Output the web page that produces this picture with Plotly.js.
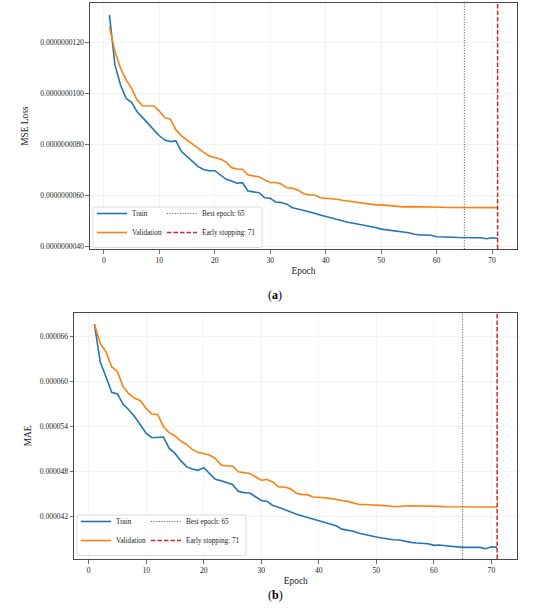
<!DOCTYPE html>
<html>
<head>
<meta charset="utf-8">
<script src="https://cdn.plot.ly/plotly-3.0.1.min.js"></script>
<style>html,body{margin:0;padding:0;background:#fff;}#chart{width:550px;height:616px;}</style>
</head>
<body>
<div id="chart"></div>
<script>
// ---- data ----
const epochs = Array.from({length: 71}, (_, i) => i + 1);

// MSE loss, units of 1e-9
const mseTrain = [13.09,11.13,10.34,9.82,9.66,9.29,9.06,8.84,8.58,8.35,
  8.18,8.12,8.15,7.73,7.53,7.33,7.14,7.03,6.98,6.98,
  6.81,6.65,6.58,6.49,6.51,6.18,6.15,6.12,5.92,5.90,
  5.75,5.73,5.67,5.53,5.48,5.43,5.37,5.31,5.24,5.18,
  5.12,5.05,5.00,4.96,4.92,4.88,4.85,4.79,4.75,4.69,
  4.66,4.63,4.59,4.58,4.55,4.49,4.46,4.46,4.45,4.39,
  4.39,4.38,4.37,4.36,4.35,4.35,4.35,4.35,4.31,4.35,4.33];
const mseVal = [12.63,11.65,11.00,10.54,10.21,9.75,9.53,9.52,9.52,9.32,
  9.06,9.00,8.58,8.35,8.18,8.01,7.86,7.70,7.56,7.51,
  7.44,7.33,7.10,7.05,7.04,6.81,6.78,6.74,6.62,6.52,
  6.52,6.46,6.31,6.29,6.22,6.09,6.03,6.03,5.92,5.90,
  5.89,5.86,5.82,5.79,5.75,5.71,5.69,5.66,5.64,5.64,
  5.62,5.60,5.56,5.56,5.57,5.57,5.56,5.56,5.55,5.55,
  5.55,5.54,5.54,5.535,5.53,5.532,5.532,5.532,5.533,5.533,5.533];

// MAE, units of 1e-6
const maeTrain = [67.69,62.67,60.67,58.58,58.36,56.98,56.22,55.33,54.22,53.11,
  52.53,52.53,52.62,51.11,50.44,49.47,48.67,48.36,48.18,48.53,
  47.78,46.98,46.80,46.53,46.31,45.40,45.21,45.16,44.71,44.17,
  44.04,43.50,43.27,42.95,42.60,42.37,42.14,41.92,41.69,41.47,
  41.24,41.02,40.79,40.34,40.21,40.07,39.80,39.60,39.48,39.30,
  39.16,39.02,38.93,38.89,38.71,38.58,38.49,38.44,38.40,38.18,
  38.22,38.13,38.04,37.96,37.91,37.91,37.91,37.91,37.73,38.00,37.91];
const maeVal = [67.69,65.11,64.00,62.00,61.33,59.33,58.36,57.78,57.47,56.44,
  55.69,55.64,54.00,53.20,52.76,52.09,51.64,50.98,50.58,50.44,
  50.22,49.78,48.89,48.76,48.76,48.00,47.91,47.77,47.32,46.87,
  46.96,46.65,45.97,45.97,45.75,45.16,44.98,44.94,44.62,44.62,
  44.53,44.44,44.35,44.17,44.04,43.86,43.63,43.63,43.59,43.55,
  43.50,43.45,43.33,43.33,43.42,43.47,43.47,43.42,43.38,43.38,
  43.38,43.33,43.33,43.30,43.29,43.29,43.29,43.29,43.29,43.29,43.29];

const bestEpoch = 65;
const stopEpoch = 71;
const seriesNames = ['Train', 'Validation'];
const markerNames = ['Best epoch: ' + bestEpoch, 'Early stopping: ' + stopEpoch];
const panelLabels = ['(<b>a</b>)', '(<b>b</b>)'];
const xTitle = 'Epoch';
const yTitles = ['MSE Loss', 'MAE'];

const scaleMSE = 1e-9, scaleMAE = 1e-6;
const sc = (arr, s) => arr.map(v => v * s);

// ---- styling ----
const W = 550, H = 616;
const px = v => v / W, py = v => 1 - v / H;
const FONT = 'Liberation Serif, Times New Roman, serif';
const C_TRAIN = '#1f77b4', C_VAL = '#ff7f0e', C_BEST = '#555555', C_STOP = '#d62728';
const DOT = '1px,1.6px', DASH = '4.5px,2px';

function lineTrace(x, y, name, color, xa, ya, leg) {
  return {type: 'scatter', mode: 'lines', x: x, y: y, name: name,
    line: {color: color, width: 1.6}, xaxis: xa, yaxis: ya, legend: leg, hoverinfo: 'x+y'};
}
function legendOnly(name, color, dash, width, xa, ya, leg) {
  return {type: 'scatter', mode: 'lines', x: [null], y: [null], name: name,
    line: {color: color, dash: dash, width: width}, xaxis: xa, yaxis: ya, legend: leg};
}

const data = [
  lineTrace(epochs, sc(mseTrain, scaleMSE), seriesNames[0], C_TRAIN, 'x', 'y', 'legend'),
  lineTrace(epochs, sc(mseVal, scaleMSE), seriesNames[1], C_VAL, 'x', 'y', 'legend'),
  legendOnly(markerNames[0], C_BEST, DOT, 1, 'x', 'y', 'legend2'),
  legendOnly(markerNames[1], C_STOP, DASH, 1.5, 'x', 'y', 'legend2'),
  lineTrace(epochs, sc(maeTrain, scaleMAE), seriesNames[0], C_TRAIN, 'x2', 'y2', 'legend3'),
  lineTrace(epochs, sc(maeVal, scaleMAE), seriesNames[1], C_VAL, 'x2', 'y2', 'legend3'),
  legendOnly(markerNames[0], C_BEST, DOT, 1, 'x2', 'y2', 'legend4'),
  legendOnly(markerNames[1], C_STOP, DASH, 1.5, 'x2', 'y2', 'legend4')
];

function xAx(domain, anchor) {
  return {domain: domain, anchor: anchor, range: [-2.5, 74.5], tick0: 0, dtick: 10,
    showline: true, mirror: true, linecolor: '#4a4a4a', linewidth: 1.1,
    ticks: 'outside', ticklen: 3.5, tickwidth: 0.8, tickcolor: '#4a4a4a',
    showgrid: true, gridcolor: '#ebebeb', gridwidth: 0.6, zeroline: false,
    tickfont: {family: FONT, size: 7.6, color: '#222'},
    title: {text: xTitle, font: {family: FONT, size: 9.4, color: '#222'}, standoff: 3}};
}
function yAx(domain, anchor, range, tick0, dtick, fmt, title, standoff) {
  return {domain: domain, anchor: anchor, range: range, tick0: tick0, dtick: dtick, tickformat: fmt,
    showline: true, mirror: true, linecolor: '#4a4a4a', linewidth: 1.1,
    ticks: 'outside', ticklen: 3.5, tickwidth: 0.8, tickcolor: '#4a4a4a',
    showgrid: true, gridcolor: '#ebebeb', gridwidth: 0.6, zeroline: false,
    tickfont: {family: FONT, size: 7.6, color: '#222'},
    title: {text: title, font: {family: FONT, size: 9.4, color: '#222'}, standoff: standoff}};
}
function legendBox(x, y) {
  return {x: x, y: y, xanchor: 'left', yanchor: 'bottom', xref: 'paper', yref: 'paper',
    bgcolor: 'rgba(0,0,0,0)', borderwidth: 0, itemwidth: 30, tracegroupgap: 0,
    font: {family: FONT, size: 7.2, color: '#222'}};
}
function roundRect(x0, y0, x1, y1, r) {
  const X = v => px(v), Y = v => py(v);
  return {type: 'path', xref: 'paper', yref: 'paper', layer: 'above',
    path: `M ${X(x0 + r)} ${Y(y0)} L ${X(x1 - r)} ${Y(y0)} Q ${X(x1)} ${Y(y0)} ${X(x1)} ${Y(y0 + r)} ` +
          `L ${X(x1)} ${Y(y1 - r)} Q ${X(x1)} ${Y(y1)} ${X(x1 - r)} ${Y(y1)} L ${X(x0 + r)} ${Y(y1)} ` +
          `Q ${X(x0)} ${Y(y1)} ${X(x0)} ${Y(y1 - r)} L ${X(x0)} ${Y(y0 + r)} Q ${X(x0)} ${Y(y0)} ${X(x0 + r)} ${Y(y0)} Z`,
    fillcolor: 'rgba(255,255,255,0.85)', line: {color: '#d0d0d0', width: 0.8}};
}
function vline(xa, ya, xv, color, width, dash) {
  return {type: 'line', xref: xa, yref: ya + ' domain', x0: xv, x1: xv, y0: 0, y1: 1,
    line: {color: color, width: width, dash: dash}};
}

const layout = {
  width: W, height: H, margin: {l: 0, r: 0, t: 0, b: 0},
  paper_bgcolor: '#fff', plot_bgcolor: '#fff',
  font: {family: FONT, color: '#222'},
  xaxis: xAx([px(90), px(517)], 'y'),
  yaxis: yAx([py(249), py(3.3)], 'x', [3.91e-9, 13.545e-9], 4e-9, 2e-9, '.10f', yTitles[0], 9),
  xaxis2: xAx([px(74.3), px(517.3)], 'y2'),
  yaxis2: yAx([py(559), py(312.7)], 'x2', [36.36e-6, 69.2e-6], 42e-6, 6e-6, '.6f', yTitles[1], 6),
  legend: legendBox(px(92), py(247)),
  legend2: legendBox(px(162), py(247)),
  legend3: legendBox(px(76), py(555)),
  legend4: legendBox(px(146), py(555)),
  shapes: [
    roundRect(93, 207, 262, 247.5, 2),
    roundRect(77, 515, 246, 555.5, 2),
    vline('x', 'y', bestEpoch, C_BEST, 1, DOT),
    vline('x', 'y', stopEpoch, C_STOP, 1.5, DASH),
    vline('x2', 'y2', bestEpoch, C_BEST, 1, DOT),
    vline('x2', 'y2', stopEpoch, C_STOP, 1.5, DASH)
  ],
  annotations: [
    {text: panelLabels[0], xref: 'paper', yref: 'paper', x: 0.5, y: py(295), showarrow: false,
      font: {family: FONT, size: 12, color: '#000'}},
    {text: panelLabels[1], xref: 'paper', yref: 'paper', x: 0.5, y: py(604), showarrow: false,
      font: {family: FONT, size: 12, color: '#000'}}
  ]
};

Plotly.newPlot('chart', data, layout, {staticPlot: true, displayModeBar: false});
</script>
</body>
</html>
